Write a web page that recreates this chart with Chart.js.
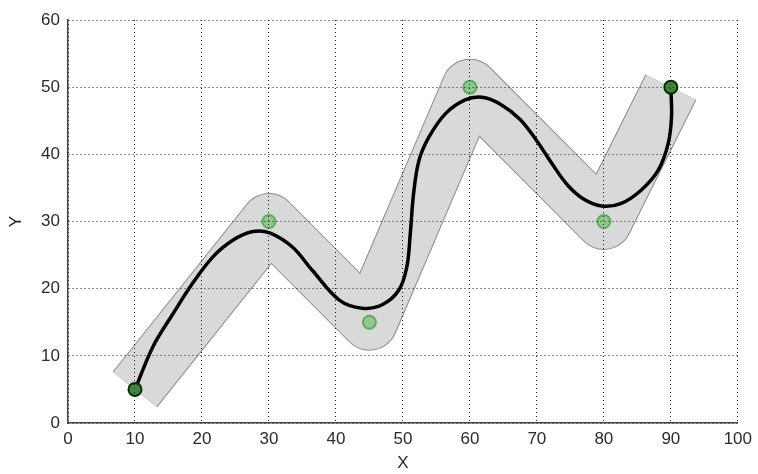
<!DOCTYPE html>
<html>
<head>
<meta charset="utf-8">
<script src="https://cdn.jsdelivr.net/npm/chart.js@4.4.1/dist/chart.umd.min.js"></script>
<style>
  html, body { margin: 0; padding: 0; background: #fff; }
  #wrap { width: 758px; height: 474px; }
</style>
</head>
<body>
<div id="wrap"><canvas id="myChart"></canvas></div>
<script>
// waypoints (corridor centre line and markers)
const wayX = [10, 30, 45, 60, 80, 90];
const wayY = [5, 30, 15, 50, 30, 50];

// smoothed path
const pathX = [10, 12.7, 15.7, 18.6, 21.6, 24.6, 27.6, 30.1, 33.5, 36.5, 40.5, 43.9, 46.9, 49.4, 50.6, 51.1, 51.6, 52.4, 53.9, 56.4, 59.3, 61.8, 64.5, 67.5, 70, 72.4, 74.6, 76.9, 79.7, 82.6, 85.6, 88.1, 89.6, 90.1, 90];
const pathY = [5, 11.4, 16.3, 20.8, 24.7, 27.2, 28.5, 28.3, 26.2, 22.7, 18.3, 17.1, 17.6, 19.8, 23.3, 28.2, 34.2, 39.1, 42.6, 46.1, 48.1, 48.5, 47.5, 45.2, 42, 38.4, 35.4, 33.4, 32.3, 32.7, 34.7, 37.6, 41.6, 45.6, 50];

const xTicks = [0, 10, 20, 30, 40, 50, 60, 70, 80, 90, 100];
const yTicks = [0, 10, 20, 30, 40, 50, 60];

const pts = (xs, ys) => xs.map((x, i) => ({ x: x, y: ys[i] }));

const ptFill = wayX.map((x, i) => (i === 0 || i === wayX.length - 1) ? '#3a8a3a' : '#8ec98e');
const ptEdge = wayX.map((x, i) => (i === 0 || i === wayX.length - 1) ? '#082e08' : '#62a862');

const tickFont = { family: 'Liberation Sans', size: 17 };

const ctx = document.getElementById('myChart');
const myChart = new Chart(ctx, {
    type: 'line',
    data: {
        datasets: [{
            // markers
            data: pts(wayX, wayY),
            showLine: false,
            pointRadius: 6.5,
            pointBorderWidth: 2,
            pointBackgroundColor: ptFill,
            pointBorderColor: ptEdge,
            order: 0
        }, {
            // path
            data: pts(pathX, pathY),
            borderColor: '#000',
            borderWidth: 3.5,
            tension: 0.35,
            pointRadius: 0,
            order: 1
        }, {
            // corridor fill
            data: pts(wayX, wayY),
            borderColor: '#d9d9d9',
            borderWidth: 55,
            borderJoinStyle: 'round',
            borderCapStyle: 'butt',
            tension: 0,
            pointRadius: 0,
            order: 2
        }, {
            // corridor outline
            data: pts(wayX, wayY),
            borderColor: '#8a8a8a',
            borderWidth: 57,
            borderJoinStyle: 'round',
            borderCapStyle: 'butt',
            tension: 0,
            pointRadius: 0,
            order: 3
        }]
    },
    options: {
        responsive: true,
        maintainAspectRatio: false,
        animation: false,
        events: [],
        layout: { padding: { top: 20, right: 17, left: 0, bottom: 0 } },
        plugins: {
            legend: { display: false },
            tooltip: { enabled: false }
        },
        scales: {
            x: {
                type: 'linear',
                min: 0,
                max: 100,
                afterBuildTicks: (s) => { s.ticks = xTicks.map(v => ({ value: v })); },
                afterFit: (s) => { s.height = 51; },
                grid: { color: '#1a1a1a', drawTicks: false, z: 1 },
                border: { color: '#404040', width: 1.5, dash: [1, 3], z: 2 },
                ticks: { color: '#2b2b2b', padding: 6, font: tickFont },
                title: { display: true, text: 'X', color: '#2b2b2b', padding: 0, font: tickFont }
            },
            y: {
                type: 'linear',
                min: 0,
                max: 60,
                afterBuildTicks: (s) => { s.ticks = yTicks.map(v => ({ value: v })); },
                afterFit: (s) => { s.width = 68; },
                grid: { color: '#1a1a1a', drawTicks: false, z: 1 },
                border: { color: '#404040', width: 1.5, dash: [1, 3], z: 2 },
                ticks: { color: '#2b2b2b', padding: 8, font: tickFont },
                title: { display: true, text: 'Y', color: '#2b2b2b', padding: { top: 6 }, font: tickFont }
            }
        }
    }
});
</script>
</body>
</html>
